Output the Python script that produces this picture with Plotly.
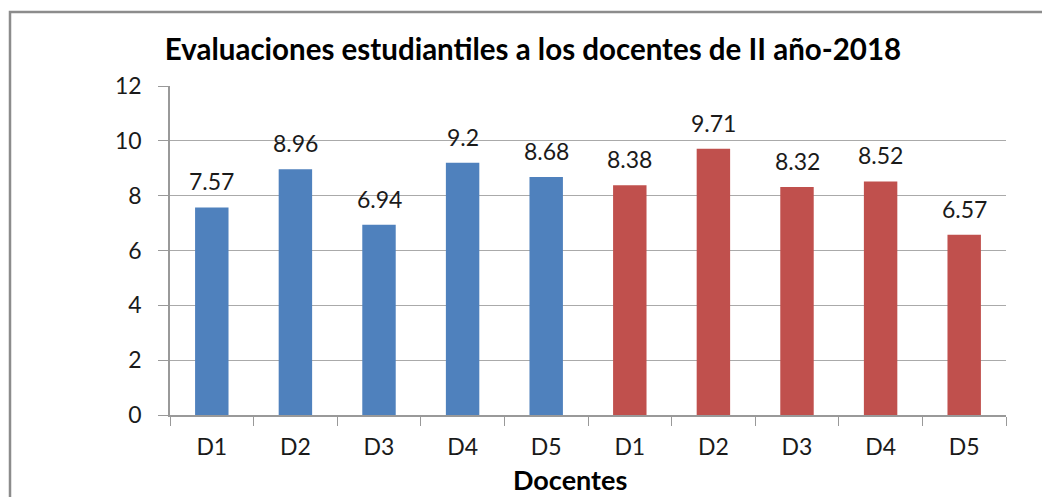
import plotly.graph_objects as go

categories = ["D1", "D2", "D3", "D4", "D5", "D1\u200b", "D2\u200b", "D3\u200b", "D4\u200b", "D5\u200b"]
values = [7.57, 8.96, 6.94, 9.2, 8.68, 8.38, 9.71, 8.32, 8.52, 6.57]
labels = ["7.57", "8.96", "6.94", "9.2", "8.68", "8.38", "9.71", "8.32", "8.52", "6.57"]
bar_colors = ["#4F81BD"] * 5 + ["#C0504D"] * 5
title = "Evaluaciones estudiantiles a los docentes de II año-2018"
x_title = "Docentes"

FONT = "Lato"
W, H = 1042, 497
L, T, PW, PH = 170, 86, 836, 329

fig = go.Figure(go.Bar(
    x=categories, y=values,
    marker=dict(color=bar_colors, line=dict(width=0)),
    width=0.4,
))

annotations = [
    dict(x=c, y=v, text=t, xref="x", yref="y", showarrow=False,
         yanchor="bottom", yshift=10,
         font=dict(family=FONT, size=23, color="#1a1a1a"))
    for c, v, t in zip(categories, values, labels)
]
annotations.append(dict(
    text="<b>" + x_title + "</b>", xref="paper", yref="paper",
    x=(570 - L) / PW, y=-(479 - T - PH) / PH, xanchor="center", yanchor="middle",
    showarrow=False, font=dict(family=FONT, size=27, color="#000000")))

fig.update_layout(
    width=W, height=H,
    margin=dict(l=L, r=W - L - PW, t=T, b=H - T - PH, autoexpand=False),
    paper_bgcolor="white", plot_bgcolor="white",
    showlegend=False,
    font=dict(family=FONT, color="#1a1a1a"),
    title=dict(text="<b>" + title + "</b>", x=533 / W, xanchor="center",
               y=1 - 50 / H, yanchor="middle",
               font=dict(family=FONT, size=29.5, color="#000000")),
    xaxis=dict(
        type="category", tickson="boundaries", ticks="outside", ticklen=9,
        tickcolor="#999999", showline=True, linecolor="#999999", linewidth=1.5,
        showgrid=False, tickfont=dict(family=FONT, size=23, color="#1a1a1a"),
        ticklabelstandoff=11,
    ),
    yaxis=dict(
        range=[0, 12], dtick=2, tick0=0, ticks="outside", ticklen=10,
        tickcolor="#999999", showline=True, linecolor="#999999", linewidth=1.5,
        showgrid=True, gridcolor="#AAAAAA", gridwidth=1.2, zeroline=False,
        tickfont=dict(family=FONT, size=23, color="#1a1a1a"),
        ticklabelstandoff=12,
    ),
    annotations=annotations,
    shapes=[dict(type="rect", xref="paper", yref="paper",
                 x0=(10 - L) / PW, x1=(W + 30 - L) / PW,
                 y0=-(H + 30 - T - PH) / PH, y1=(T + PH - 12) / PH,
                 line=dict(color="#8c8c8c", width=2.5), fillcolor="rgba(0,0,0,0)",
                 layer="below")],
)

fig.write_html(
    "out.html",
    config={"displayModeBar": False},
    post_script="document.body.style.margin='0';document.body.style.overflow='hidden';",
)
